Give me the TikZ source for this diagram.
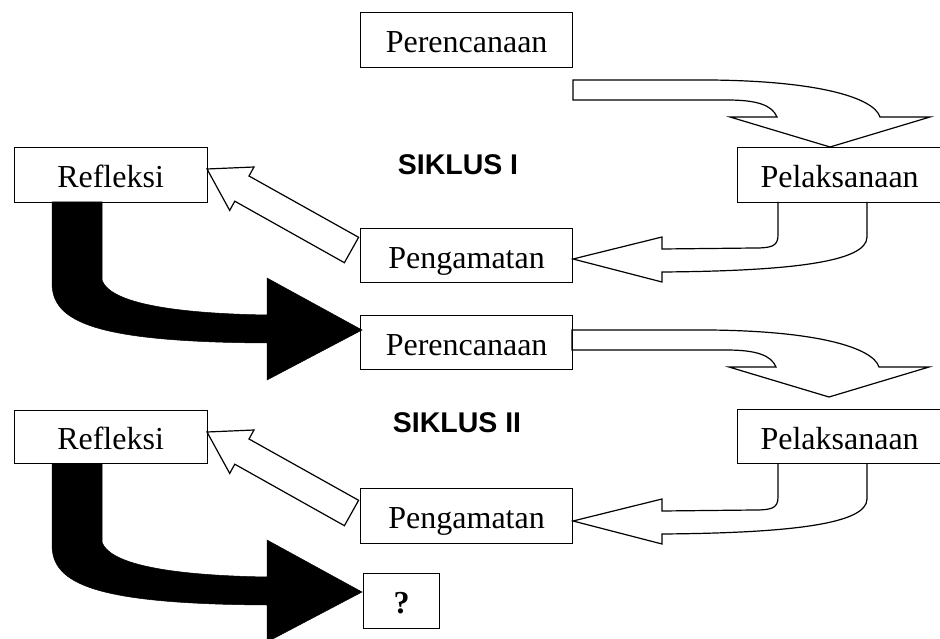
\documentclass[tikz,border=0pt]{standalone}
\usepackage{fontspec}
\setmainfont{Liberation Serif}
\newfontfamily\sikfont{Liberation Sans}
\usetikzlibrary{backgrounds}
\begin{document}
\begin{tikzpicture}[x=1bp,y=-1bp,
  box/.style={draw, line width=1.2bp, inner sep=0pt, anchor=north west,
    font=\fontsize{32bp}{36bp}\selectfont, text height=25bp, text depth=0bp},
  siklus/.style={anchor=base, inner sep=0pt, font=\sikfont\bfseries\fontsize{28.5bp}{32bp}\selectfont},
  whitearrow/.style={draw, fill=white, line width=1.2bp, line join=miter},
  openarrow/.style={draw, line width=1.2bp, line join=miter},
  blackarrow/.style={fill=black, draw=black, line width=0.5bp}]
\useasboundingbox (0,0) rectangle (940,639);

% ---------- Cycle I nodes ----------
\node[box, minimum width=212bp, minimum height=55bp] (p1) at (360,12) {Perencanaan};
\node[box, minimum width=204bp, minimum height=55bp] (l1) at (737,147) {Pelaksanaan};
\node[box, minimum width=193bp, minimum height=55bp] (r1) at (13.5,147) {Refleksi};
\node[box, minimum width=212bp, minimum height=54bp] (g1) at (360,228) {Pengamatan};
\node[siklus] (s1) at (458,175) {SIKLUS I};

% ---------- Cycle II nodes ----------
\node[box, minimum width=212bp, minimum height=54bp] (p2) at (360,315) {Perencanaan};
\node[box, minimum width=204bp, minimum height=54bp] (l2) at (737,409) {Pelaksanaan};
\node[box, minimum width=193bp, minimum height=53bp] (r2) at (13.5,410) {Refleksi};
\node[box, minimum width=212bp, minimum height=55bp] (g2) at (360,488) {Pengamatan};
\node[box, minimum width=76bp, minimum height=55bp, font=\bfseries\fontsize{32bp}{36bp}\selectfont] (q) at (363,573) {?};
\node[siklus] (s2) at (457,432) {SIKLUS II};

\begin{scope}[on background layer]
\foreach \dy/\dx in {0/0, 250/-1}{
  % curved arrow Perencanaan -> Pelaksanaan
  \begin{scope}[shift={(\dx,\dy)}]
    \path[whitearrow] (573,80) -- (710,80) .. controls (820,81) and (874,98) .. (880,117)
      -- (930,117) -- (830,147) -- (730,117) -- (777,117)
      .. controls (772,105) and (757,100) .. (727,100) -- (573,100) -- cycle;
  \end{scope}
}
\foreach \dy in {0,262}{
  \begin{scope}[shift={(0,\dy)}]
    % curved arrow Pelaksanaan -> Pengamatan
    \path[openarrow] (778,202) -- (778,235) .. controls (778,246) and (772,248) .. (755,248)
      -- (662,249) -- (662,237) -- (573,259) -- (662,282) -- (662,272)
      .. controls (790,271) and (867,262) .. (867,237) -- (867,202);
    % black arrow Refleksi -> next
    \path[blackarrow] (52,202) -- (52,283) .. controls (52,322) and (95,342) .. (267,343)
      -- (267,380) -- (362,330) -- (267,278) -- (267,315)
      .. controls (150,313) and (108,298) .. (102,280) -- (102,202) -- cycle;
  \end{scope}
}
\foreach \dy in {0,263}{
  \begin{scope}[shift={(0,\dy)}]
    % straight arrow Pengamatan -> Refleksi
    \path[whitearrow] (207,169) -- (254,167) -- (249,176) -- (358.6,237.3)
      -- (344.4,262.7) -- (234.8,201.2) -- (229.7,210.4) -- cycle;
  \end{scope}
}
\end{scope}
\end{tikzpicture}
\end{document}
